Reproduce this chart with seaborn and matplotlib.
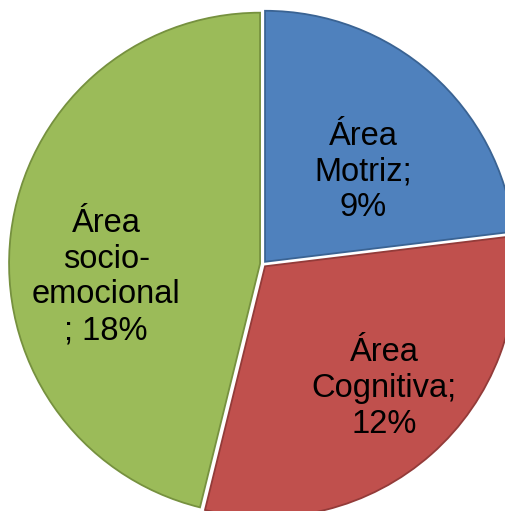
import seaborn as sns
import matplotlib.pyplot as plt

# Datos del grafico
areas = ["Área\nMotriz;\n9%", "Área\nCognitiva;\n12%", "Área\nsocio-\nemocional\n; 18%"]
valores = [9, 12, 18]
colores = ["#4F81BD", "#C0504D", "#9BBB59"]
bordes = ["#3A6393", "#933B39", "#76913F"]

# posiciones de las etiquetas (centro de cada texto, en unidades del radio)
pos_etiquetas = [(0.398, 0.366), (0.482, -0.497), (-0.625, -0.052)]

sns.set_theme(style="white")
plt.rcParams['font.family'] = ['Liberation Sans', 'DejaVu Sans']

fig = plt.figure(figsize=(5.06, 5.11), dpi=100)
ax = fig.add_axes([0, 0, 1, 1])

wedges, textos = ax.pie(valores, labels=areas, colors=colores, startangle=90,
                        counterclock=False, explode=[0.012] * 3,
                        labeldistance=0.6,
                        wedgeprops=dict(linewidth=1.3),
                        textprops=dict(fontsize=23.5, color="black"))

# bordes oscuros de cada sector
for w, b in zip(wedges, bordes):
    w.set_edgecolor(b)

for t, p in zip(textos, pos_etiquetas):
    t.set_position(p)
    t.set_ha("center")
    t.set_va("center")
    t.set_multialignment("center")
    t.set_linespacing(1.2)

ax.set_aspect("equal")
ax.set_xlim(-1.048, 0.968)
ax.set_ylim(-0.984, 1.052)
ax.axis("off")

fig.savefig("out.png", dpi=100)
